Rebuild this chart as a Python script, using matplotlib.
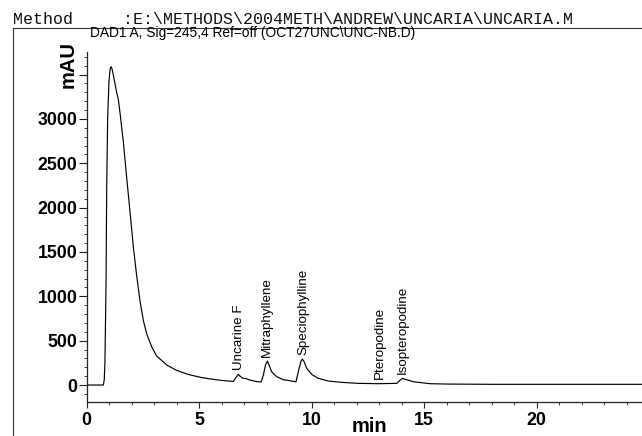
import matplotlib
matplotlib.use("Agg")
import matplotlib.pyplot as plt
from matplotlib.lines import Line2D
from matplotlib.ticker import MultipleLocator, FixedLocator

# ---- data ----
time_min = [0.00, 0.15, 0.74, 0.78, 0.81, 0.86, 0.89, 0.93, 0.99, 1.04, 1.08, 1.12,
            1.18, 1.33, 1.40, 1.48, 1.63, 1.78, 1.92, 2.07, 2.22, 2.37, 2.52, 2.67,
            2.89, 3.10, 3.56, 4.00, 4.50, 5.04, 5.50, 6.00, 6.52, 6.62, 6.74, 6.82,
            6.92, 7.04, 7.26, 7.56, 7.75, 7.85, 7.95, 8.03, 8.12, 8.22, 8.44, 8.74,
            9.11, 9.30, 9.44, 9.52, 9.58, 9.65, 9.78, 10.00, 10.29, 10.74, 11.33,
            12.07, 12.96, 13.78, 13.93, 14.03, 14.22, 14.52, 14.89, 15.26, 16.00,
            18.00, 24.70]
signal_mau = [0, 0, 0, 60, 248, 1160, 2250, 2990, 3430, 3560, 3590, 3570,
              3500, 3300, 3230, 3070, 2740, 2330, 1965, 1565, 1235, 945, 725, 575,
              430, 330, 225, 165, 120, 88, 68, 52, 40, 80, 120, 100,
              78, 75, 56, 38, 34, 110, 230, 270, 215, 150, 94, 60,
              45, 36, 188, 265, 293, 270, 188, 120, 75, 45, 30,
              19, 15, 19, 55, 75, 60, 37, 26, 15, 11,
              8, 8]

peak_names = ["Uncarine F", "Mitraphyllene", "Speciophylline", "Pteropodine", "Isopteropodine"]
peak_rt = [6.76, 8.01, 9.62, 13.04, 14.03]
peak_height = [120, 270, 293, 15, 75]

x_ticks = [0, 5, 10, 15, 20]
y_ticks = [0, 500, 1000, 1500, 2000, 2500, 3000, 3500]
y_tick_labels = ["0", "500", "1000", "1500", "2000", "2500", "3000", ""]

header = "Method     :E:\\METHODS\\2004METH\\ANDREW\\UNCARIA\\UNCARIA.M"
subtitle = "DAD1 A, Sig=245,4 Ref=off (OCT27UNC\\UNC-NB.D)"

# ---- figure ----
W, H = 642, 436
fig = plt.figure(figsize=(W / 100, H / 100), dpi=100)
fig.patch.set_facecolor("white")

def fx(px):
    return px / W

def fy(py):
    return 1 - py / H

ax = fig.add_axes([fx(86.7), fy(401.7), fx(642 - 86.7), (401.7 - 52) / H])
ax.plot(time_min, signal_mau, color="black", lw=0.85)

ax.set_xlim(0, 24.68)
ax.set_ylim(-188, 3755)

for s in ["top", "right"]:
    ax.spines[s].set_visible(False)
for s in ["left", "bottom"]:
    ax.spines[s].set_linewidth(0.9)
    ax.spines[s].set_color("#222222")

ax.xaxis.set_major_locator(FixedLocator(x_ticks))
ax.xaxis.set_minor_locator(MultipleLocator(1))
ax.set_xticks(x_ticks)
ax.set_xticklabels([str(v) for v in x_ticks])
ax.yaxis.set_major_locator(FixedLocator(y_ticks))
ax.set_yticks(y_ticks)
ax.set_yticklabels(y_tick_labels)
ax.yaxis.set_minor_locator(MultipleLocator(100))

for lab in ax.get_xticklabels() + ax.get_yticklabels():
    lab.set_fontfamily(["Liberation Sans", "DejaVu Sans"])
    lab.set_fontweight("bold")
    lab.set_fontsize(12.8)

ax.tick_params(axis="y", which="major", direction="out", length=5.8, width=0.8, pad=1.0, colors="#222222")
ax.tick_params(axis="y", which="minor", direction="out", length=2.3, width=0.6, colors="#222222")
ax.tick_params(axis="x", which="major", direction="out", length=4.2, width=0.8, pad=3.5, colors="#222222")
ax.tick_params(axis="x", which="minor", direction="out", length=2.0, width=0.6, colors="#222222")
ax.tick_params(labelcolor="black")

# peak labels
for name, rt, h in zip(peak_names, peak_rt, peak_height):
    ax.annotate(name, xy=(rt, h), xytext=(0, 3.2), textcoords="offset points",
                rotation=90, ha="center", va="bottom", fontsize=9.6,
                family=["Liberation Sans", "DejaVu Sans"], color="black")

# axis unit labels
fig.text(fx(68), fy(65), "mAU", rotation=90, ha="center", va="center",
         fontsize=14.5, fontweight="bold", family=["Liberation Sans", "DejaVu Sans"])
fig.text(fx(369), fy(426), "min", ha="center", va="center",
         fontsize=14.5, fontweight="bold", family=["Liberation Sans", "DejaVu Sans"])

# header texts
fig.text(fx(13), fy(24), header, ha="left", va="baseline", fontsize=12,
         family=["Liberation Mono", "DejaVu Sans Mono"], color="#111111")
fig.text(fx(90), fy(37.5), subtitle, ha="left", va="baseline", fontsize=9.9,
         family=["Liberation Sans", "DejaVu Sans"], color="black")

# report frame
fig.add_artist(Line2D([fx(13), 1.0], [fy(28), fy(28)], color="#333333", lw=0.8))
fig.add_artist(Line2D([fx(13), fx(13)], [fy(28), 0.0], color="#333333", lw=0.8))

fig.savefig("out.png", dpi=100)
